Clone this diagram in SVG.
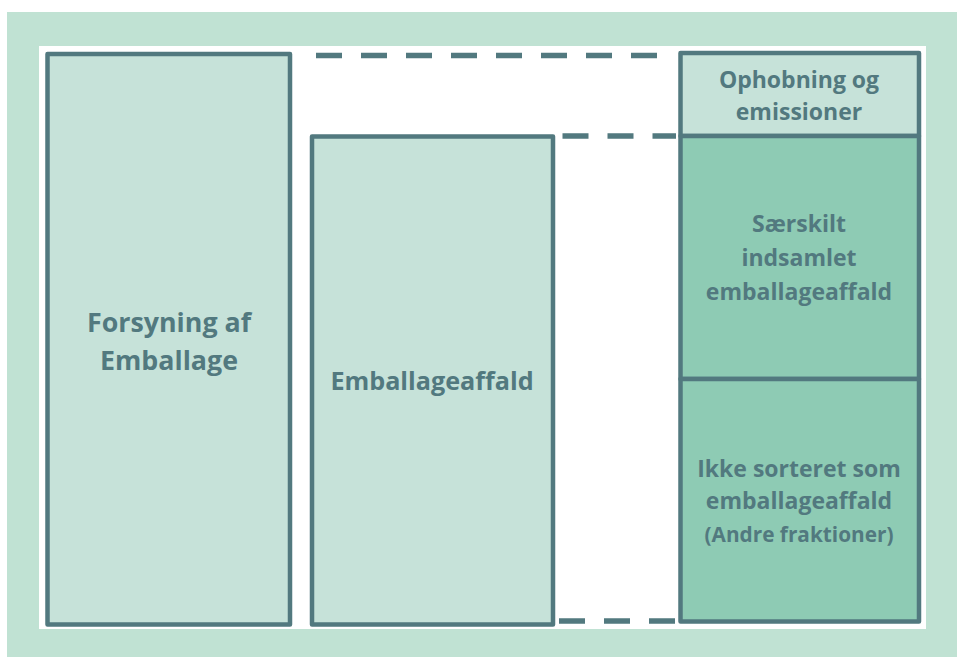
<svg xmlns="http://www.w3.org/2000/svg" width="957" height="657" viewBox="0 0 957 657">
<style>
.box{stroke:#52797f;stroke-width:4.5;stroke-linejoin:round}
.light{fill:#c6e2d9}
.dark{fill:#8ecbb4}
.dash{stroke:#52797f;stroke-width:5.5;stroke-dasharray:26 19;fill:none}
text{font-family:"Open Sans",Lato,sans-serif;font-weight:bold;fill:#52797f;text-anchor:middle}
.xl{font-size:26.8px}
.big{font-size:25.2px}
.mid{font-size:23px}
.sm{font-size:20.8px}
</style>
<rect x="7" y="12" width="950" height="645" fill="#c0e2d3"/>
<rect x="39" y="46" width="887" height="583" fill="#ffffff"/>
<g id="connectors">
<line class="dash" x1="316" y1="55.5" x2="660" y2="55.5"/>
<line class="dash" x1="562.5" y1="136" x2="676" y2="136"/>
<line class="dash" x1="559" y1="621" x2="676" y2="621"/>
</g>
<g id="forsyning">
<rect class="box light" x="47.5" y="54" width="242.5" height="570.5"/>
<text class="xl" x="169" y="332">Forsyning af</text>
<text class="xl" x="169" y="370">Emballage</text>
</g>
<g id="emballageaffald">
<rect class="box light" x="312" y="136.5" width="241" height="488"/>
<text class="big" x="432" y="390">Emballageaffald</text>
</g>
<g id="ophobning">
<rect class="box light" x="680.5" y="53" width="238.5" height="83"/>
<text class="mid" x="799" y="88">Ophobning og</text>
<text class="mid" x="799" y="120">emissioner</text>
</g>
<g id="saerskilt">
<rect class="box dark" x="680.5" y="136" width="238.5" height="243"/>
<text class="mid" x="799" y="232">Særskilt</text>
<text class="mid" x="799" y="266">indsamlet</text>
<text class="mid" x="799" y="300">emballageaffald</text>
</g>
<g id="ikke-sorteret">
<rect class="box dark" x="680.5" y="379" width="238.5" height="242.5"/>
<text class="mid" x="799" y="477">Ikke sorteret som</text>
<text class="mid" x="799" y="509">emballageaffald</text>
<text class="sm" x="799" y="542">(Andre fraktioner)</text>
</g>
</svg>
